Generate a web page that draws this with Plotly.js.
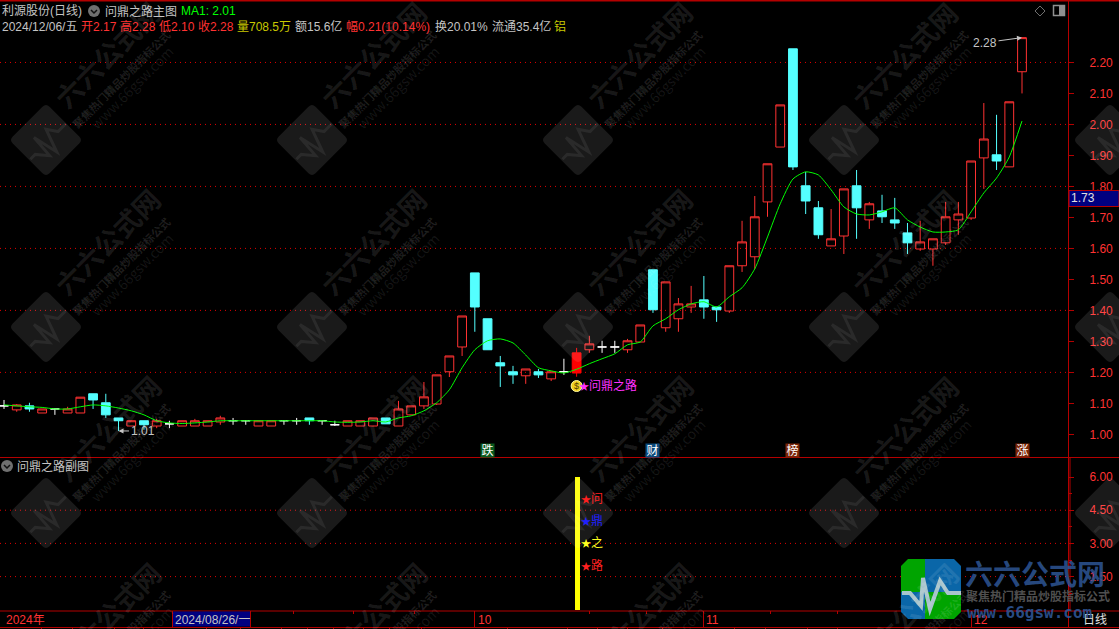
<!DOCTYPE html>
<html><head><meta charset="utf-8">
<script src="https://cdn.plot.ly/plotly-3.0.1.min.js"></script>
<style>html,body{margin:0;padding:0;background:#000;overflow:hidden}#c{width:1119px;height:629px}</style>
</head><body><div id="c"></div>
<script>
// ---- candle data (one entry per trading day, left to right) ----
const open  = [1.092,1.079,1.092,1.069,1.082,1.069,1.069,1.131,1.102,1.053,1.027,1.044,1.027,1.034,1.027,1.027,1.027,1.040,1.044,1.044,1.027,1.027,1.044,1.044,1.053,1.044,1.031,1.027,1.027,1.027,1.053,1.027,1.063,1.092,1.098,1.202,1.282,1.521,1.373,1.231,1.202,1.189,1.202,1.179,1.202,1.198,1.273,1.282,1.282,1.273,1.298,1.531,1.344,1.373,1.411,1.434,1.411,1.398,1.544,1.573,1.750,1.927,2.244,1.802,1.731,1.608,1.640,1.802,1.692,1.721,1.692,1.650,1.598,1.598,1.618,1.692,1.698,1.892,1.902,1.863,2.170];
const high  = [1.111,1.098,1.102,1.082,1.082,1.089,1.120,1.131,1.131,1.053,1.044,1.044,1.050,1.044,1.044,1.050,1.044,1.060,1.053,1.044,1.044,1.044,1.044,1.053,1.053,1.044,1.044,1.044,1.044,1.053,1.053,1.108,1.092,1.169,1.192,1.253,1.382,1.521,1.373,1.253,1.221,1.211,1.211,1.202,1.244,1.279,1.318,1.302,1.302,1.308,1.353,1.531,1.492,1.440,1.479,1.511,1.411,1.544,1.689,1.769,1.873,2.063,2.244,1.847,1.753,1.727,1.792,1.853,1.750,1.773,1.763,1.682,1.689,1.631,1.750,1.750,1.882,2.069,2.031,2.073,2.280];
const low   = [1.082,1.073,1.073,1.069,1.063,1.069,1.069,1.082,1.053,1.011,1.027,1.015,1.020,1.020,1.027,1.027,1.027,1.031,1.031,1.031,1.027,1.027,1.031,1.031,1.031,1.031,1.027,1.027,1.027,1.027,1.034,1.027,1.063,1.082,1.095,1.185,1.253,1.331,1.273,1.153,1.163,1.163,1.182,1.172,1.192,1.186,1.263,1.263,1.263,1.263,1.298,1.392,1.331,1.331,1.392,1.373,1.363,1.392,1.524,1.534,1.702,1.927,1.853,1.711,1.631,1.608,1.582,1.631,1.663,1.682,1.663,1.582,1.592,1.544,1.611,1.644,1.692,1.792,1.853,1.863,2.100];
const close = [1.092,1.095,1.082,1.082,1.082,1.082,1.120,1.111,1.063,1.044,1.044,1.031,1.044,1.034,1.044,1.044,1.044,1.053,1.044,1.044,1.044,1.044,1.044,1.044,1.044,1.044,1.031,1.044,1.044,1.053,1.034,1.082,1.092,1.121,1.192,1.253,1.382,1.411,1.273,1.221,1.192,1.211,1.192,1.202,1.202,1.263,1.292,1.282,1.282,1.302,1.353,1.402,1.492,1.421,1.421,1.411,1.402,1.544,1.621,1.702,1.873,2.063,1.863,1.753,1.644,1.631,1.792,1.731,1.744,1.702,1.682,1.618,1.621,1.631,1.702,1.711,1.882,1.953,1.882,2.073,2.280];
const ma1   = [1.095,1.092,1.089,1.087,1.082,1.082,1.089,1.095,1.092,1.085,1.076,1.063,1.044,1.037,1.035,1.037,1.040,1.044,1.044,1.044,1.044,1.044,1.044,1.044,1.044,1.044,1.040,1.039,1.040,1.044,1.040,1.053,1.060,1.076,1.102,1.144,1.215,1.273,1.302,1.308,1.295,1.256,1.215,1.205,1.198,1.210,1.228,1.244,1.260,1.289,1.298,1.350,1.373,1.402,1.421,1.428,1.411,1.444,1.473,1.534,1.637,1.744,1.824,1.847,1.837,1.789,1.734,1.711,1.708,1.718,1.731,1.692,1.669,1.653,1.653,1.660,1.718,1.779,1.827,1.895,2.011];
const days = open.map((_, i) => i);
const signalDay = [45];
const signalHeight = [6];
const priceTicks = [1.0,1.1,1.2,1.3,1.4,1.5,1.6,1.7,1.8,1.9,2.0,2.1,2.2];
const priceTickText = ['1.00','1.10','1.20','1.30','1.40','1.50','1.60','1.70','1.80','1.90','2.00','2.10','2.20'];
const priceGrid = [1.2,1.4,1.6,1.8,2.0,2.2];
const subGrid = [1.5,3.0,4.5];
const subTicks = [1.5,3.0,4.5,6.0];
const subLabels = [['问','#ff2020',5],['鼎','#2020ff',4],['之','#ffff20',3],['路','#ff2020',2]];
const tags = [['跌',38,'#0a5a1e'],['财',51,'#0b4a7c'],['榜',62,'#7a2406'],['涨',80,'#7a2406']];

const W = 1119, H = 629, PX = 1068;
const X = p => p / W, Y = p => 1 - p / H;
const RED = '#ff3232', CYAN = '#54ffff', FRAME = '#b40000', GREY = '#c4c4c4';
const FONT = '"Liberation Sans","Noto Sans CJK SC",sans-serif';
const star = c => '<span style="font-size:10px;color:'+c+'">★</span>';

const pick = test => { const idx = days.filter(test); return {
  x: idx, open: idx.map(i=>open[i]), high: idx.map(i=>high[i]), low: idx.map(i=>low[i]), close: idx.map(i=>close[i]) }; };
const isDoji = i => open[i] === close[i];
const isSolid = i => signalDay.includes(i);

const traces = [
  Object.assign({type:'candlestick', name:'K', xaxis:'x', yaxis:'y', hoverinfo:'skip', whiskerwidth:0,
    increasing:{line:{color:RED,width:1}, fillcolor:'rgba(0,0,0,0)'},
    decreasing:{line:{color:CYAN,width:1}, fillcolor:CYAN}}, pick(i=>!isDoji(i)&&!isSolid(i))),
  Object.assign({type:'candlestick', name:'doji', xaxis:'x', yaxis:'y', hoverinfo:'skip', whiskerwidth:0,
    increasing:{line:{color:'#ffffff',width:1}, fillcolor:'#ffffff'},
    decreasing:{line:{color:'#ffffff',width:1}, fillcolor:'#ffffff'}}, pick(isDoji)),
  Object.assign({type:'candlestick', name:'signal', xaxis:'x', yaxis:'y', hoverinfo:'skip', whiskerwidth:0,
    increasing:{line:{color:'#ff0000',width:1}, fillcolor:'#ff0000'},
    decreasing:{line:{color:'#ff0000',width:1}, fillcolor:'#ff0000'}}, pick(isSolid)),
  {type:'scatter', mode:'lines', name:'MA1', x:days, y:ma1, xaxis:'x', yaxis:'y', hoverinfo:'skip',
    line:{color:'#00ff00',width:1,shape:'spline',smoothing:0.6}},
  {type:'scatter', mode:'markers', name:'bag', x:signalDay, y:[1.156], xaxis:'x', yaxis:'y', hoverinfo:'skip',
    marker:{color:'#f0d020',size:11,line:{color:'#fff8a0',width:1}}},
  {type:'bar', name:'signal bar', x:signalDay, y:signalHeight, width:[0.39], offset:[-0.13], xaxis:'x', yaxis:'y2',
    hoverinfo:'skip', marker:{color:'#ffff00',line:{width:0}}}
];

// ---- shapes ----
const shapes = [];
const hline = (y, x0=0, x1=W, w=1, c=FRAME) => shapes.push({type:'line',xref:'paper',yref:'paper',x0:X(x0),x1:X(x1),y0:Y(y),y1:Y(y),line:{color:c,width:w},layer:'above'});
const vline = (x, y0, y1, w=1, c=FRAME) => shapes.push({type:'line',xref:'paper',yref:'paper',x0:X(x),x1:X(x),y0:Y(y0),y1:Y(y1),line:{color:c,width:w},layer:'above'});
priceGrid.forEach(v => shapes.push({type:'line',xref:'paper',yref:'y',x0:0,x1:X(PX),y0:v,y1:v,layer:'below',line:{color:'#e00000',width:1,dash:'1px,4px'}}));
subGrid.forEach(v => shapes.push({type:'line',xref:'paper',yref:'y2',x0:0,x1:X(PX),y0:v,y1:v,layer:'below',line:{color:'#e00000',width:1,dash:'1px,4px'}}));
hline(0.5,0,W,2); hline(457.5); hline(611); hline(627.5);
vline(PX+0.5,0,628); vline(PX+2,458,610); 
[172.5,250.5,474.5,703.5,971.5].forEach(x => vline(x,611,627));
[293,353,414,589,646,770,837].forEach(x => vline(x+.5,611,614));
[41,72,114,143,206,240,281,307,333,363,389,421,507,567,597,627,662,734,765,807,837].forEach(x => vline(x+.5,627,629));
shapes.push({type:'rect',xref:'paper',yref:'paper',x0:X(173),x1:X(250),y0:Y(611.5),y1:Y(626.5),fillcolor:'#000080',line:{width:0},layer:'above'});
shapes.push({type:'rect',xref:'paper',yref:'paper',x0:X(1069),x1:X(1119),y0:Y(190.5),y1:Y(206.5),fillcolor:'#000080',line:{color:FRAME,width:1},layer:'above'});

const pathOf = (pts, close) => pts.map((p,i)=>(i?'L ':'M ')+X(p[0]).toFixed(5)+' '+Y(p[1]).toFixed(5)).join(' ')+(close?' Z':'');
function roundRect(cx, cy, half, r, rot) { // rounded square, rot in degrees
  const a = rot*Math.PI/180, c=Math.cos(a), s=Math.sin(a);
  const t = (x,y)=>[cx+x*c+y*s, cy-x*s+y*c];
  const h=half; const seq=[[-h+r,-h],[h-r,-h],[h,-h,h,-h+r],[h,h-r],[h,h,h-r,h],[-h+r,h],[-h,h,-h,h-r],[-h,-h+r],[-h,-h,-h+r,-h]];
  let d='';
  seq.forEach((q,i)=>{
    if(q.length===2){const p=t(q[0],q[1]); d+=(i?'L ':'M ')+X(p[0]).toFixed(5)+' '+Y(p[1]).toFixed(5)+' ';}
    else {const p=t(q[0],q[1]),e=t(q[2],q[3]); d+='Q '+X(p[0]).toFixed(5)+' '+Y(p[1]).toFixed(5)+' '+X(e[0]).toFixed(5)+' '+Y(e[1]).toFixed(5)+' ';}
  });
  return d+'Z';
}
const pulse = [[-29,3],[-21,3],[-10,16],[-8,-12],[-1,19],[9,-9],[17,3],[30,3]];
function pulseAt(cx,cy,k,rot){const a=rot*Math.PI/180,c=Math.cos(a),s=Math.sin(a);
  return pulse.map(p=>[cx+k*(p[0]*c+p[1]*s), cy+k*(-p[0]*s+p[1]*c)]);}

const anns = [];
const txt = (x,y,text,color,size=12,extra={}) => anns.push(Object.assign({xref:'paper',yref:'paper',x:X(x),y:Y(y),text,showarrow:false,xanchor:'left',yanchor:'middle',borderpad:0,
  font:{family:FONT,size,color}},extra));

// watermark
const wmCols=[46,312,578,844,1110], wmRows=[140,327,513,700];
wmCols.forEach(cx=>wmRows.forEach(cy=>{
  if(cy<700){
    shapes.push({type:'path',xref:'paper',yref:'paper',path:roundRect(cx,cy,26,5,45),fillcolor:'rgba(255,255,255,0.10)',line:{width:0},layer:'above'});
    shapes.push({type:'path',xref:'paper',yref:'paper',path:pathOf(pulseAt(cx,cy,0.85,45)),line:{color:'rgba(255,255,255,0.07)',width:3},layer:'above'});
  }
  if(cx>1100) return;
  const wm=(dx,dy,t,size,w,a)=>anns.push({xref:'paper',yref:'paper',x:X(cx+dx),y:Y(cy+dy),text:t,showarrow:false,textangle:-45,xanchor:'center',yanchor:'middle',
    font:{family:'"Noto Sans CJK SC",sans-serif',size,color:'rgba(255,255,255,'+a+')',weight:w}});
  wm(61,-85,'六六公式网',27,700,0.10);
  wm(75,-61,'聚焦热门精品炒股指标公式',11,700,0.12);
  wm(86,-53,'www.66gsw.com',14,400,0.09);
}));

// header
txt(1,11,'利源股份(日线)',GREY); txt(104,11,'问鼎之路主图',GREY); txt(180,11,'MA1: 2.01','#00ff00');
[[1,'2024/12/06/五',GREY],[80,'开2.17',RED],[119,'高2.28',RED],[158,'低2.10',RED],[197,'收2.28',RED],[236,'量708.5万','#c8c800'],
 [294,'额15.6亿',GREY],[345,'幅0.21(10.14%)',RED],[434,'换20.01%',GREY],[491,'流通35.4亿',GREY],[553,'铝','#c8c800']].forEach(r=>txt(r[0],27,r[1],r[2]));
txt(16,466,'问鼎之路副图',GREY);
[[94,11],[7,466]].forEach(c=>{
  shapes.push({type:'circle',xref:'paper',yref:'paper',x0:X(c[0]-6),x1:X(c[0]+6),y0:Y(c[1]-6),y1:Y(c[1]+6),fillcolor:'#707070',line:{width:0},layer:'above'});
  shapes.push({type:'path',xref:'paper',yref:'paper',path:pathOf([[c[0]-3,c[1]-1],[c[0],c[1]+2],[c[0]+3,c[1]-1]]),line:{color:'#111',width:1.5},layer:'above'});
});
shapes.push({type:'path',xref:'paper',yref:'paper',path:pathOf([[1040,6],[1045,11],[1040,16],[1035,11]],true),line:{color:'#707070',width:1},layer:'above'});
shapes.push({type:'rect',xref:'paper',yref:'paper',x0:X(1053.5),x1:X(1064.5),y0:Y(5.5),y1:Y(15.5),line:{color:'#909090',width:1.5},layer:'above'});
shapes.push({type:'rect',xref:'paper',yref:'paper',x0:X(1059),x1:X(1064),y0:Y(6),y1:Y(15),fillcolor:'#909090',line:{width:0},layer:'above'});

// chart labels
anns.push({xref:'x',yref:'y',x:9,y:1.011,text:'1.01',ax:24,ay:0,showarrow:true,arrowhead:2,arrowsize:1,arrowwidth:1,arrowcolor:GREY,font:{family:FONT,size:12,color:GREY}});
anns.push({xref:'x',yref:'y',x:80,y:2.28,text:'2.28',ax:-37,ay:5,showarrow:true,arrowhead:2,arrowsize:1,arrowwidth:1,arrowcolor:GREY,font:{family:FONT,size:12,color:GREY}});
anns.push({xref:'x',yref:'y',x:45,y:1.158,text:star('#ff30ff')+'问鼎之路',showarrow:false,xanchor:'left',yanchor:'middle',xshift:1,borderpad:0,font:{family:FONT,size:12,color:'#ff30ff'}});
anns.push({xref:'x',yref:'y',x:45,y:1.156,text:'$',showarrow:false,xanchor:'center',yanchor:'middle',borderpad:0,font:{family:FONT,size:9,color:'#504000'}});
tags.forEach(t=>anns.push({xref:'x',yref:'paper',x:t[1],y:Y(450),text:t[0],showarrow:false,xanchor:'center',yanchor:'middle',width:13,height:13,borderpad:0,bgcolor:t[2],font:{family:FONT,size:12,color:'#ffffff'}}));
subLabels.forEach(l=>anns.push({xref:'x',yref:'y2',x:45,y:l[2],text:star(l[1])+l[0],showarrow:false,xanchor:'left',yanchor:'middle',xshift:3,borderpad:0,font:{family:FONT,size:12,color:l[1]}}));

// time axis row
txt(5,620,'2024年',RED); txt(174,620,'2024/08/26/一',GREY); txt(477,620,'10',RED); txt(705,620,'11',RED); txt(973,620,'12',RED); txt(1082,620,'日线','#e0e0e0');
txt(1070,198,'1.73','#e0e0e0');

// logo
const lg={x0:901,x1:961,y0:559,y1:619,mx:925,my:592,r:7};
shapes.push({type:'path',xref:'paper',yref:'paper',path:pathOf([[lg.x0+lg.r,lg.y0],[lg.mx,lg.y0],[lg.mx,lg.my],[lg.x0,lg.my],[lg.x0,lg.y0+lg.r]],true),fillcolor:'#00a400',line:{width:0},layer:'above'});
shapes.push({type:'path',xref:'paper',yref:'paper',path:pathOf([[lg.mx,lg.y0],[lg.x1-lg.r,lg.y0],[lg.x1,lg.y0+lg.r],[lg.x1,lg.my],[lg.mx,lg.my]],true),fillcolor:'#0a66a8',line:{width:0},layer:'above'});
shapes.push({type:'path',xref:'paper',yref:'paper',path:pathOf([[lg.x0,lg.my],[lg.mx,lg.my],[lg.mx,lg.y1],[lg.x0+lg.r,lg.y1],[lg.x0,lg.y1-lg.r]],true),fillcolor:'#0a66a8',line:{width:0},layer:'above'});
shapes.push({type:'path',xref:'paper',yref:'paper',path:pathOf([[lg.mx,lg.my],[lg.x1,lg.my],[lg.x1,lg.y1-lg.r],[lg.x1-lg.r,lg.y1],[lg.mx,lg.y1]],true),fillcolor:'#00a400',line:{width:0},layer:'above'});
shapes.push({type:'path',xref:'paper',yref:'paper',path:pathOf(pulseAt(931,590,1,0)),line:{color:'#a8c4cc',width:4},layer:'above'});
txt(964,573,'六六公式网','rgba(46,86,150,0.85)',28,{font:{family:'"Noto Sans CJK SC",sans-serif',size:28,color:'rgba(46,86,150,0.85)',weight:700}});
txt(965,595,'聚焦热门精品炒股指标公式','rgba(90,90,90,0.9)',12,{font:{family:'"Noto Sans CJK SC",sans-serif',size:12,color:'rgba(90,90,90,0.9)',weight:700}});
txt(966,612,'www.66gsw.com','rgba(46,86,150,0.9)',14,{font:{family:'"DejaVu Sans Mono",monospace',size:16,color:'rgba(46,86,150,0.9)',weight:700}});

const layout = {
  width:W, height:H, margin:{l:0,r:0,t:0,b:0,pad:0}, paper_bgcolor:'#000', plot_bgcolor:'#000', showlegend:false, boxgap:0.31, boxgroupgap:0,
  bargap:0, font:{family:FONT,size:12,color:RED},
  xaxis:{domain:[0,PX/W], range:[-0.314,83.615], anchor:'y2', showgrid:false, zeroline:false, showticklabels:false, ticks:'', showline:false, rangeslider:{visible:false}, fixedrange:true},
  yaxis:{domain:[Y(457),Y(2)], range:[0.927,2.395], side:'right', anchor:'x', tickmode:'array', tickvals:priceTicks, ticktext:priceTickText, showgrid:false, zeroline:false,
    showline:false, ticks:'outside', ticklen:5, tickcolor:FRAME, tickwidth:1, tickfont:{family:FONT,size:12,color:RED}, ticklabelstandoff:13, fixedrange:true},
  yaxis2:{domain:[Y(610),Y(458)], range:[-0.01,6.86], side:'right', anchor:'x', tickmode:'array', tickvals:subTicks, ticktext:subTicks.map(v=>v.toFixed(2)), showgrid:false, zeroline:false,
    showline:false, ticks:'outside', ticklen:5, tickcolor:FRAME, tickwidth:1, tickfont:{family:FONT,size:12,color:RED}, ticklabelstandoff:13, fixedrange:true,
    minor:{tickmode:'array',tickvals:[0.75,2.25,3.75,5.25],ticks:'outside',ticklen:3,tickcolor:FRAME,showgrid:false}},
  shapes, annotations:anns
};
Plotly.newPlot('c', traces, layout, {displayModeBar:false, staticPlot:true});
</script></body></html>
